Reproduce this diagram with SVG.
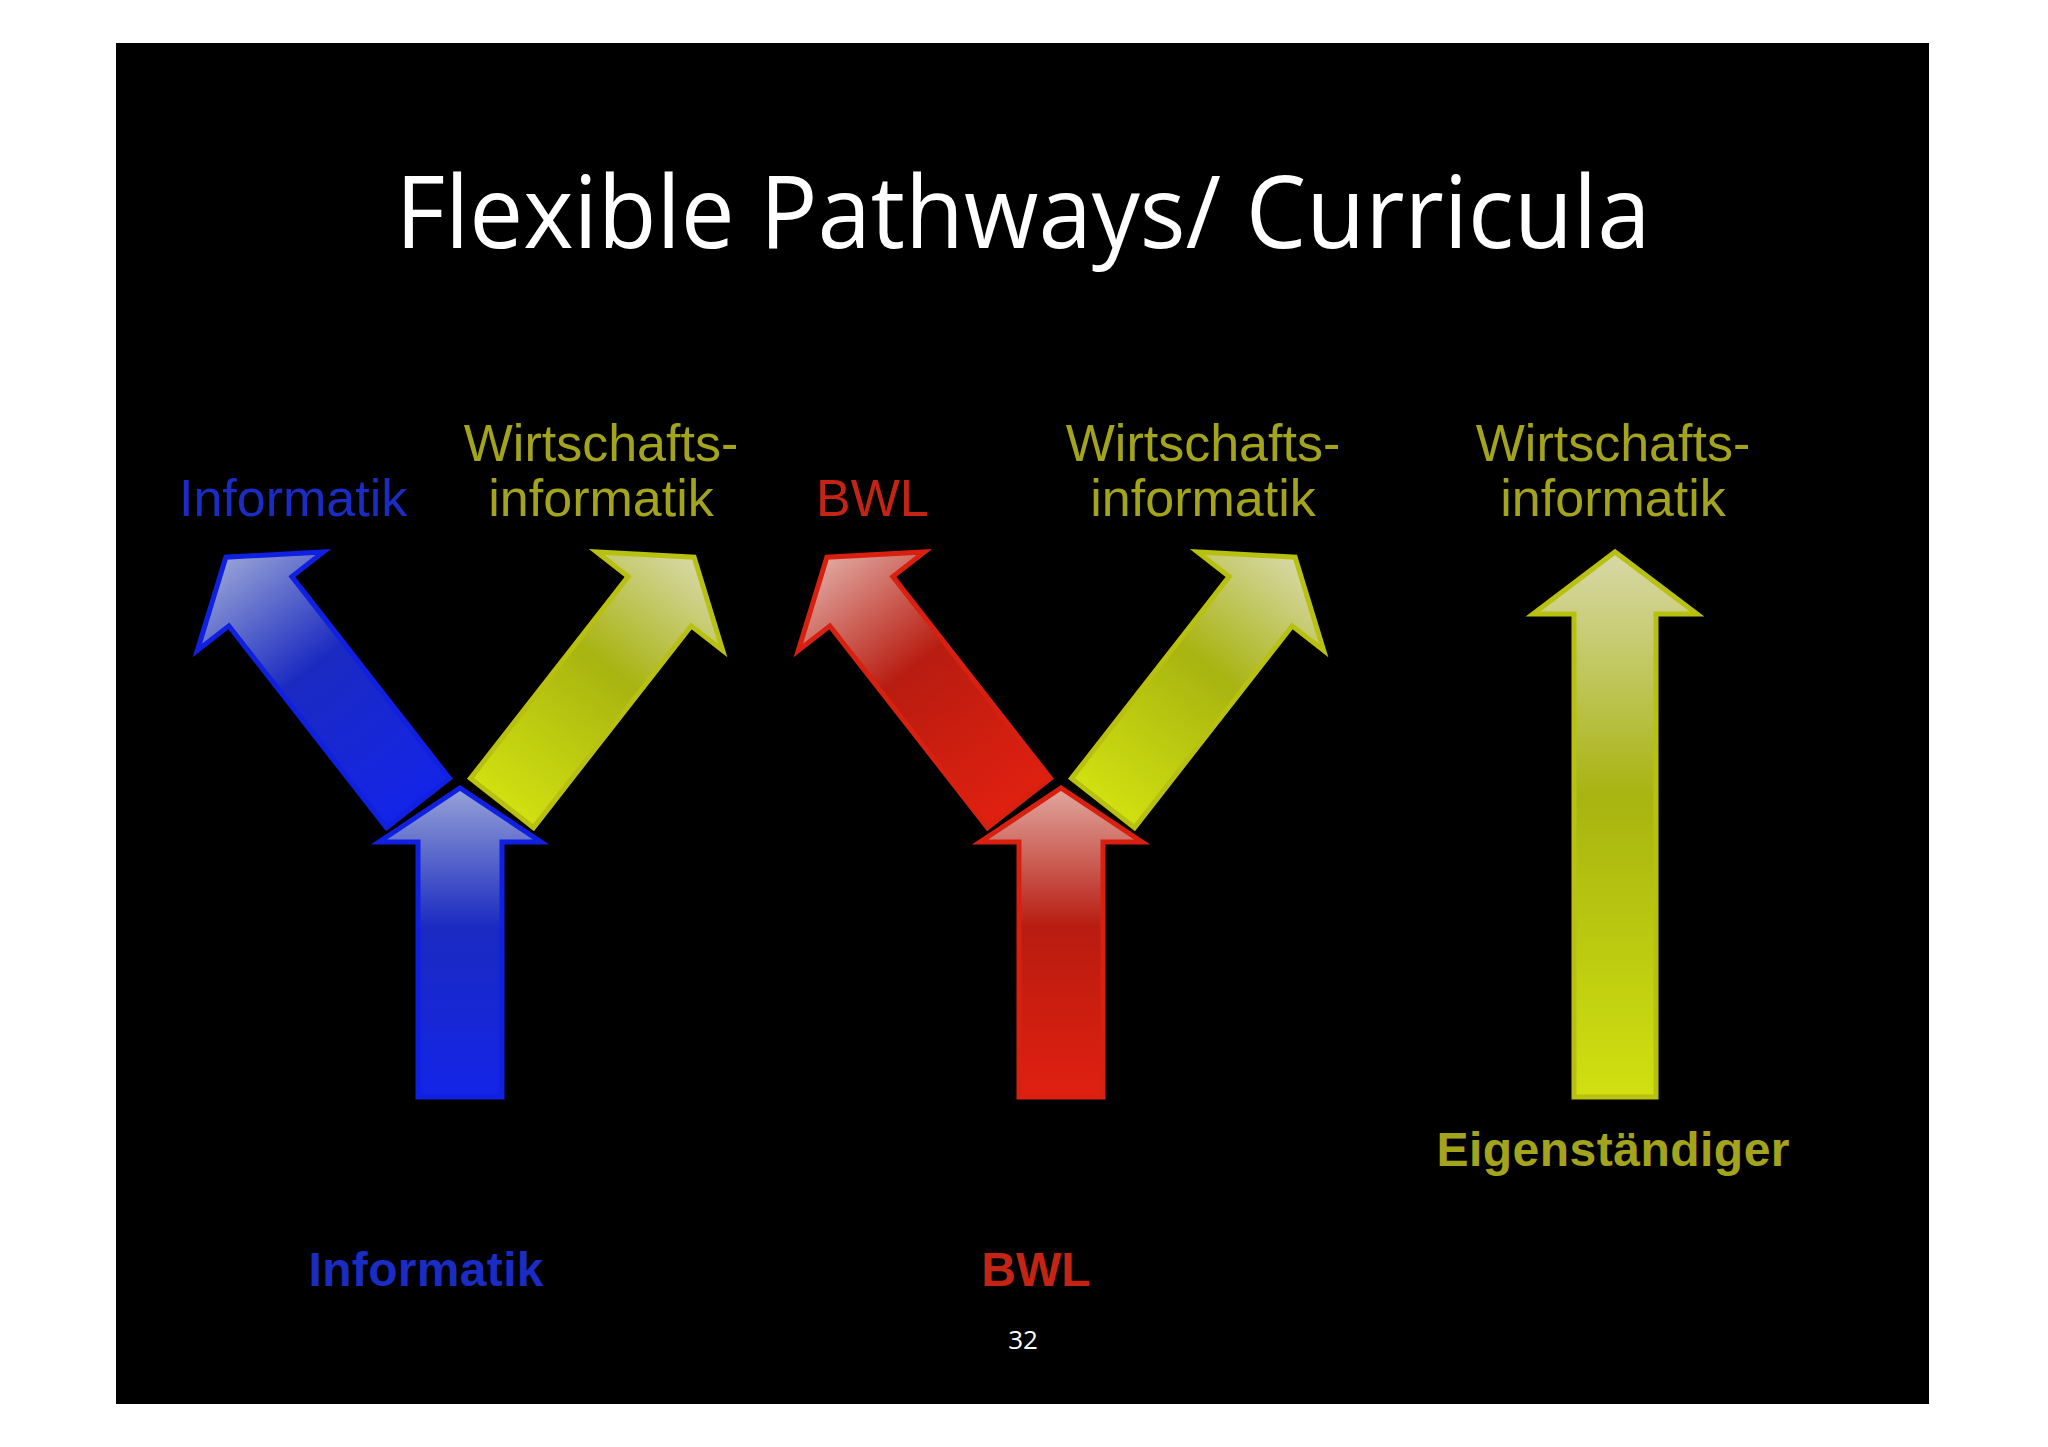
<svg xmlns="http://www.w3.org/2000/svg" width="2048" height="1447" viewBox="0 0 2048 1447">
<defs>
<linearGradient id="gb" x1="0" y1="0" x2="0" y2="1"><stop offset="0" stop-color="#97a3d6"/><stop offset="0.45" stop-color="#1a2ac0"/><stop offset="1" stop-color="#1424e8"/></linearGradient>
<linearGradient id="gr" x1="0" y1="0" x2="0" y2="1"><stop offset="0" stop-color="#e0a8a0"/><stop offset="0.45" stop-color="#b81c10"/><stop offset="1" stop-color="#e02010"/></linearGradient>
<linearGradient id="gy" x1="0" y1="0" x2="0" y2="1"><stop offset="0" stop-color="#d8d8a8"/><stop offset="0.45" stop-color="#a8b410"/><stop offset="1" stop-color="#d0e010"/></linearGradient>
</defs>
<style>
.b{fill:url(#gb);stroke:#1020e0;stroke-width:5;stroke-linejoin:miter}
.r{fill:url(#gr);stroke:#d82010;stroke-width:5}
.y{fill:url(#gy);stroke:#b8c010;stroke-width:5}
.t{font-family:"Liberation Sans",Arial,sans-serif;font-size:52px}
.tb{font-family:"Liberation Sans",Arial,sans-serif;font-size:48px;font-weight:bold}
.yt{fill:#a4a41c}.bt{fill:#1a2cc4}.rt{fill:#c42414}
</style>
<rect x="0" y="0" width="2048" height="1447" fill="#fff"/>
<rect x="116" y="43" width="1813" height="1361" fill="#000"/>
<text x="1023" y="248" text-anchor="middle" fill="#fff" font-family="'Open Sans',sans-serif" font-size="100" textLength="1255" lengthAdjust="spacingAndGlyphs">Flexible Pathways/ Curricula</text>
<g id="y1">
<path class="b" transform="translate(418,803) rotate(-38)" d="M-40,0 L-40,-256 L-80,-256 L0,-312 L80,-256 L40,-256 L40,0 Z"/>
<path class="y" transform="translate(502,803) rotate(38)" d="M-40,0 L-40,-256 L-80,-256 L0,-312 L80,-256 L40,-256 L40,0 Z"/>
<path class="b" transform="translate(460,1097)" d="M-42,0 L-42,-255 L-81,-255 L0,-309 L81,-255 L42,-255 L42,0 Z"/>
</g>
<g id="y2">
<path class="r" transform="translate(1019,803) rotate(-38)" d="M-40,0 L-40,-256 L-80,-256 L0,-312 L80,-256 L40,-256 L40,0 Z"/>
<path class="y" transform="translate(1103,803) rotate(38)" d="M-40,0 L-40,-256 L-80,-256 L0,-312 L80,-256 L40,-256 L40,0 Z"/>
<path class="r" transform="translate(1061,1097)" d="M-42,0 L-42,-255 L-81,-255 L0,-309 L81,-255 L42,-255 L42,0 Z"/>
</g>
<g id="a3">
<path class="y" transform="translate(1615,1097)" d="M-41,0 L-41,-483 L-82,-483 L0,-545 L82,-483 L41,-483 L41,0 Z"/>
</g>
<g id="labels">
<text class="t bt" x="179" y="516">Informatik</text>
<text class="t yt" x="601" y="461" text-anchor="middle">Wirtschafts-</text>
<text class="t yt" x="601" y="516" text-anchor="middle">informatik</text>
<text class="t rt" x="816" y="516">BWL</text>
<text class="t yt" x="1203" y="461" text-anchor="middle">Wirtschafts-</text>
<text class="t yt" x="1203" y="516" text-anchor="middle">informatik</text>
<text class="t yt" x="1613" y="461" text-anchor="middle">Wirtschafts-</text>
<text class="t yt" x="1613" y="516" text-anchor="middle">informatik</text>
<text class="tb yt" x="1613" y="1166" text-anchor="middle" textLength="353">Eigenständiger</text>
<text class="tb bt" x="426" y="1286" text-anchor="middle" textLength="235">Informatik</text>
<text class="tb rt" x="1036" y="1286" text-anchor="middle">BWL</text>
<text x="1023" y="1349" text-anchor="middle" fill="#fff" font-family="'Open Sans',sans-serif" font-size="26">32</text>
</g>
</svg>
